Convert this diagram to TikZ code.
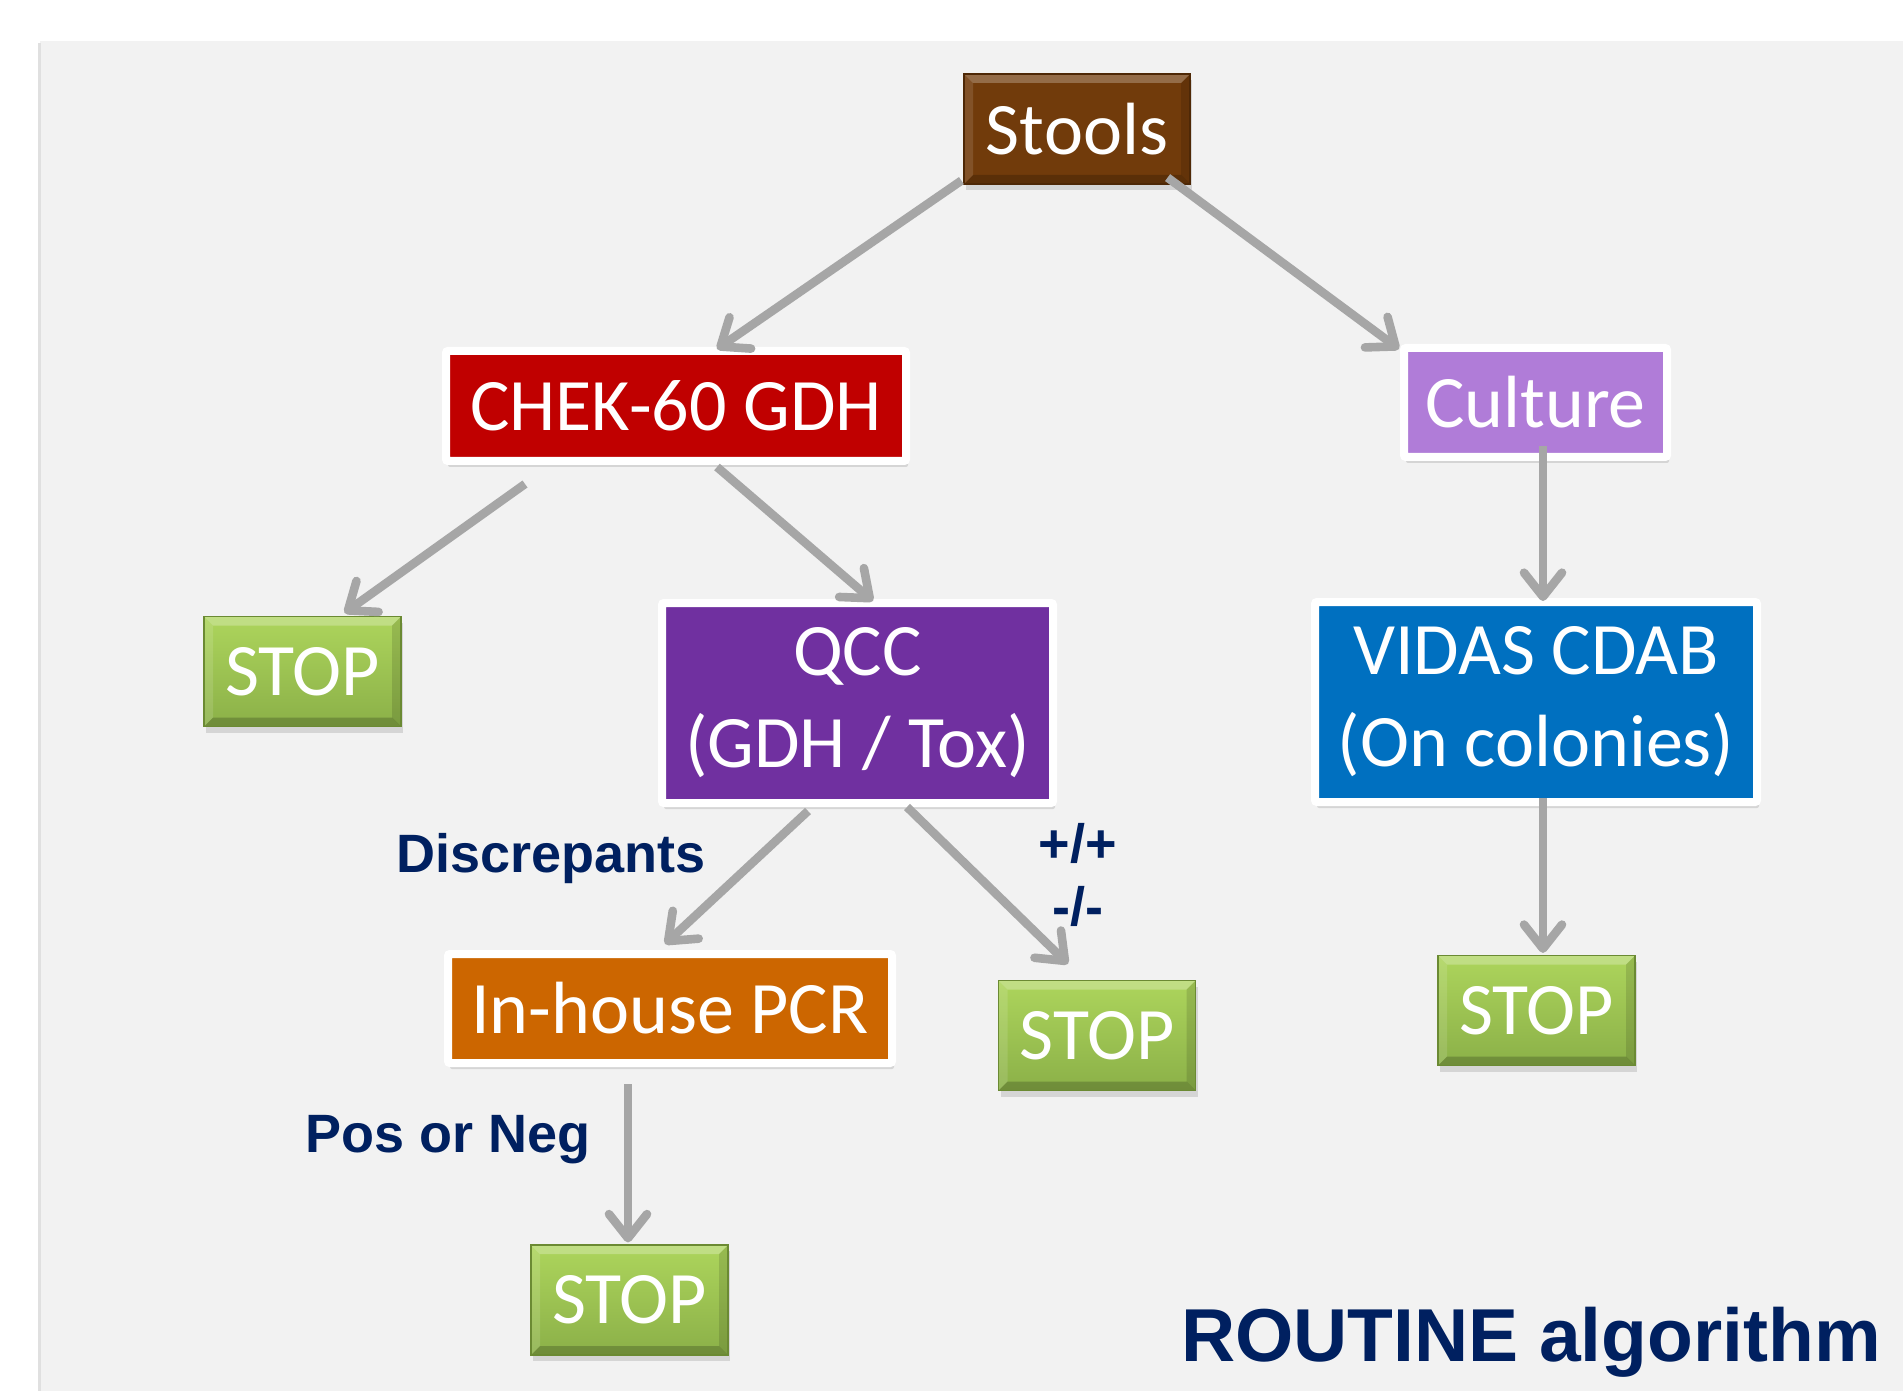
\documentclass[tikz,border=0pt]{standalone}
\usepackage{fontspec}
\setmainfont{Carlito}
\newfontfamily\labelfont{Liberation Sans}
\usetikzlibrary{arrows.meta}
\usetikzlibrary{shadows}

\definecolor{panel}{HTML}{F2F2F2}
\definecolor{arrowgray}{HTML}{A6A6A6}
\definecolor{navy}{HTML}{002060}
\definecolor{stoolbrown}{HTML}{713B0B}
\definecolor{stooledge}{HTML}{4E2806}
\definecolor{chekred}{HTML}{C00000}
\definecolor{qccpurple}{HTML}{7030A0}
\definecolor{culturelilac}{HTML}{B07CD8}
\definecolor{vidasblue}{HTML}{0070C0}
\definecolor{pcrorange}{HTML}{CC6600}
\definecolor{stoptop}{HTML}{ADD55C}
\definecolor{stopbottom}{HTML}{8BB048}
\definecolor{stopedge}{HTML}{6B8A33}

\tikzset{
  boxtext/.style={text=white, font=\fontsize{37}{46}\selectfont, align=center, inner sep=0pt},
  framed/.style={boxtext, draw=white, line width=4pt, rounded corners=1pt,
    drop shadow={shadow xshift=1pt, shadow yshift=-3pt, opacity=.25}},
  bevel/.style={path picture={
    \fill[white, opacity=.25] (path picture bounding box.north west) -- (path picture bounding box.north east)
      -- ([shift={(-4.5pt,-4.5pt)}]path picture bounding box.north east) -- ([shift={(4.5pt,-4.5pt)}]path picture bounding box.north west) -- cycle;
    \fill[white, opacity=.12] (path picture bounding box.north west) -- ([shift={(4.5pt,-4.5pt)}]path picture bounding box.north west)
      -- ([shift={(4.5pt,4.5pt)}]path picture bounding box.south west) -- (path picture bounding box.south west) -- cycle;
    \fill[black, opacity=.2] (path picture bounding box.south west) -- (path picture bounding box.south east)
      -- ([shift={(-4.5pt,4.5pt)}]path picture bounding box.south east) -- ([shift={(4.5pt,4.5pt)}]path picture bounding box.south west) -- cycle;
    \fill[black, opacity=.12] (path picture bounding box.north east) -- (path picture bounding box.south east)
      -- ([shift={(-4.5pt,4.5pt)}]path picture bounding box.south east) -- ([shift={(-4.5pt,-4.5pt)}]path picture bounding box.north east) -- cycle;
  }},
  stopbox/.style={boxtext, bevel, draw=stopedge, line width=.6pt, top color=stoptop, bottom color=stopbottom,
    minimum width=98.5pt, minimum height=55pt,
    drop shadow={shadow xshift=1pt, shadow yshift=-3pt, opacity=.25}},
  flow/.style={draw=arrowgray, line width=4.3pt, -{Straight Barb[length=12pt,width=19pt,round]}},
  branch/.style={text=navy, font=\labelfont\bfseries\fontsize{27}{32}\selectfont, inner sep=0pt, anchor=base},
}

\begin{document}
\begin{tikzpicture}[x=0.5pt, y=-0.5pt]
  \useasboundingbox (0,0) rectangle (1903,1391);

  % Panel
  \fill[panel] (40,43) rectangle (1903,1391);
  \draw[black!12, line width=1.5pt] (39,43) -- (39,1391);
  \draw[black!5, line width=1pt] (40,42) -- (1903,42);

  % Boxes
  \node[boxtext, bevel, fill=stoolbrown, draw=stooledge, line width=.6pt, minimum width=113pt, minimum height=55pt,
    drop shadow={shadow xshift=1pt, shadow yshift=-3pt, opacity=.25}] (stools) at (1077,129) {Stools};
  \node[framed, fill=chekred, minimum width=230pt, minimum height=55pt] (chek) at (676,406) {CHEK-60 GDH};
  \node[framed, fill=culturelilac, minimum width=131.5pt, minimum height=54.5pt] (culture) at (1535.5,402.5) {Culture};
  \node[stopbox] (stopL) at (302.5,671.5) {STOP};
  \node[framed, fill=qccpurple, minimum width=195.5pt, minimum height=100pt] (qcc) at (857.5,703) {QCC\\(GDH / Tox)};
  \node[framed, fill=vidasblue, minimum width=221pt, minimum height=100pt] (vidas) at (1536,702) {VIDAS CDAB\\(On colonies)};
  \node[framed, fill=pcrorange, minimum width=222pt, minimum height=54.5pt] (pcr) at (670,1008.5) {In-house PCR};
  \node[stopbox] (stopM) at (1097,1035.5) {STOP};
  \node[stopbox] (stopR) at (1536.5,1010.5) {STOP};
  \node[stopbox] (stopB) at (629.5,1300) {STOP};

  % Labels
  \node[branch] (discr) at (551,872) {Discrepants};
  \node[branch] (posneg) at (448,1152) {Pos or Neg};
  \node[branch] (pp) at (1078,862) {+/+};
  \node[branch] (mm) at (1078,925) {-/-};

  % Title
  \node[text=navy, font=\labelfont\bfseries\fontsize{37.5}{45}\selectfont, inner sep=0pt, anchor=base] (title) at (1531,1361) {ROUTINE algorithm};

  % Arrows
  \draw[flow] ([shift={(-1pt,2pt)}]stools.south west) -- ([shift={(20.5pt,-1pt)}]chek.north);
  \draw[flow] ([shift={(-11.5pt,3.5pt)}]stools.south east) -- ([shift={(-0.5pt,-2.5pt)}]culture.north west);
  \draw[flow] ([shift={(-75.5pt,-9.5pt)}]chek.south) -- ([shift={(21pt,1.5pt)}]stopL.north);
  \draw[flow] ([shift={(20.5pt,-1pt)}]chek.south) -- ([shift={(7.75pt,-1pt)}]qcc.north);
  \draw[flow] ([shift={(3.75pt,7.5pt)}]culture.south) -- ([shift={(3.5pt,-1.5pt)}]vidas.north);
  \draw[flow] ([shift={(-24.75pt,-2pt)}]qcc.south) -- ([shift={(-2.5pt,3pt)}]pcr.north);
  \draw[flow] ([xshift=24.75pt]qcc.south) -- ([shift={(-14.5pt,8pt)}]stopM.north);
  \draw[flow] ([shift={(3.5pt,4pt)}]vidas.south) -- ([shift={(3.25pt,1pt)}]stopR.north);
  \draw[flow] ([shift={(-21pt,-8.5pt)}]pcr.south) -- ([shift={(-0.75pt,1pt)}]stopB.north);
\end{tikzpicture}
\end{document}
